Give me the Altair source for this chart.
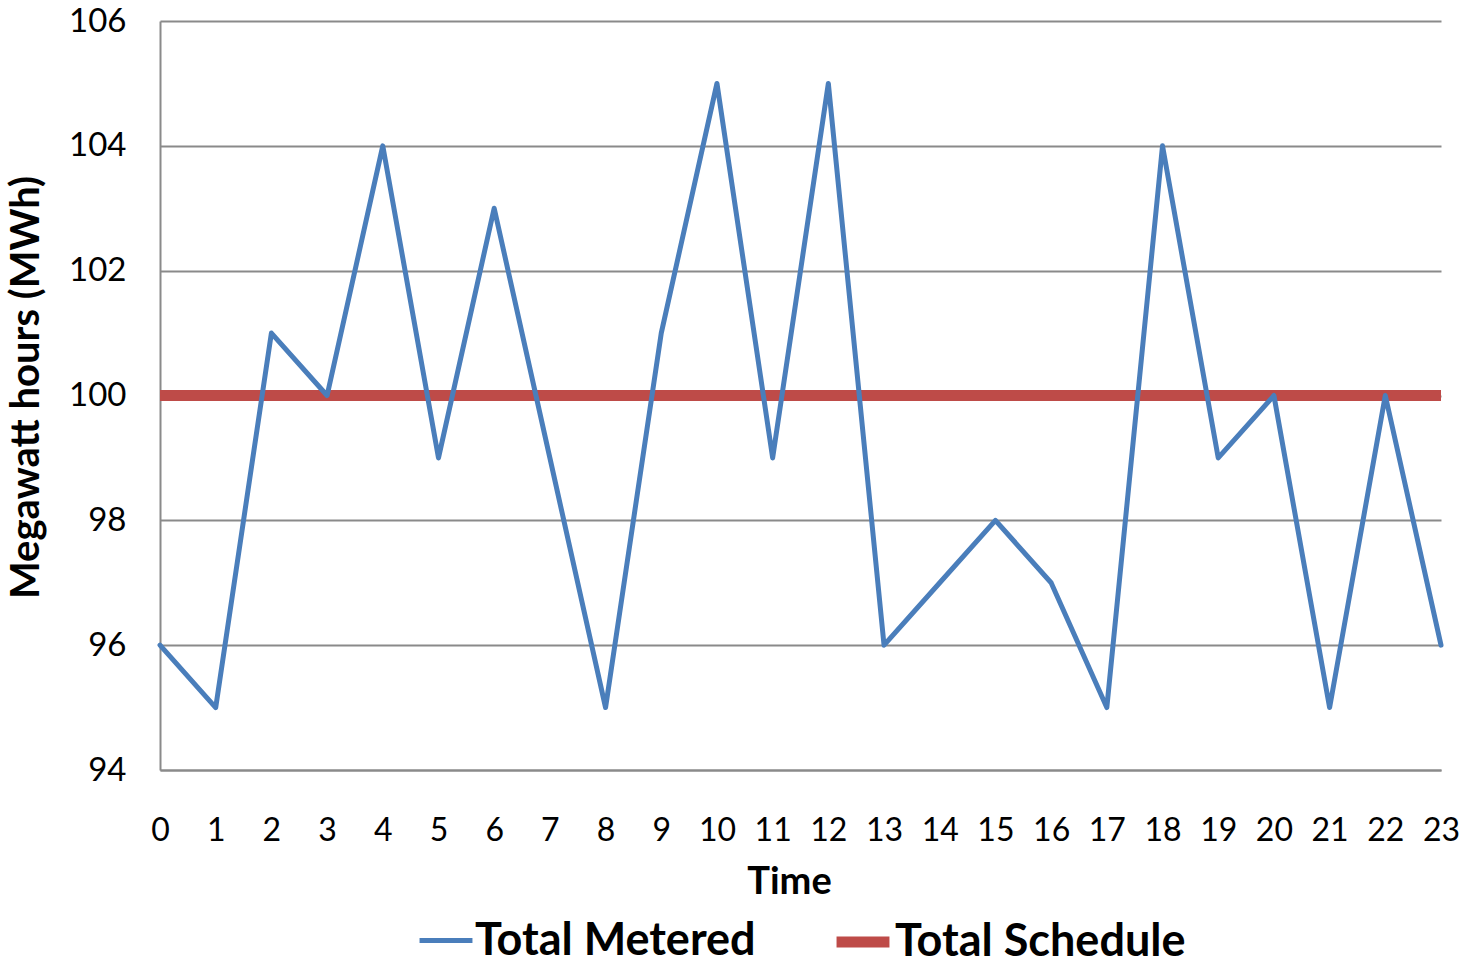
import altair as alt
import pandas as pd

# Hourly totals (MWh)
hours = list(range(24))
metered = [96, 95, 101, 100, 104, 99, 103, 99, 95, 101, 105, 99,
           105, 96, 97, 98, 97, 95, 104, 99, 100, 95, 100, 96]
schedule = [100] * 24

series_names = ["Total Metered", "Total Schedule"]
series_colors = ["#4A7EBB", "#BE4B48"]
series_widths = [5, 11]
y_ticks = [94, 96, 98, 100, 102, 104, 106]

df = pd.DataFrame({
    "Time": hours * 2,
    "MWh": metered + schedule,
    "series": [series_names[0]] * 24 + [series_names[1]] * 24,
})

grid_gray = "#8A8A8A"

x_enc = alt.X(
    "Time:Q",
    scale=alt.Scale(domain=[0, 23], nice=False, zero=False),
    axis=alt.Axis(
        values=hours, format="d", grid=False, ticks=False,
        domainColor=grid_gray, domainWidth=2,
        labelFont="Lato", labelFontSize=32, labelColor="#000000",
        labelPadding=45, labelFlush=False, labelOverlap=False,
        titleFont="Lato", titleFontSize=38, titleFontWeight="bold",
        titleColor="#000000", titlePadding=17, titleX=629,
    ),
)
y_enc = alt.Y(
    "MWh:Q",
    title="Megawatt hours (MWh)",
    scale=alt.Scale(domain=[94, 106], nice=False, zero=False),
    axis=alt.Axis(
        values=y_ticks, grid=True, gridColor=grid_gray, gridWidth=2,
        ticks=False, domainColor=grid_gray, domainWidth=2,
        labelFont="Lato", labelFontSize=33, labelColor="#000000",
        labelPadding=34,
        titleFont="Lato", titleFontSize=40, titleFontWeight="bold",
        titleColor="#000000", titlePadding=22, titleY=366,
    ),
)
color_enc = alt.Color(
    "series:N",
    scale=alt.Scale(domain=series_names, range=series_colors),
    legend=alt.Legend(
        title=None, orient="none", direction="horizontal",
        legendX=257, legendY=889,
        symbolType="stroke", symbolSize=2800, symbolStrokeWidth=6,
        labelFont="Lato", labelFontSize=45, labelFontWeight="bold",
        labelColor="#000000", labelOffset=0, labelLimit=500,
        columnPadding=58,
    ),
)
width_enc = alt.StrokeWidth(
    "series:N",
    scale=alt.Scale(domain=series_names, range=series_widths),
    legend=None,
)

base = alt.Chart(df).encode(x=x_enc, y=y_enc, color=color_enc,
                            strokeWidth=width_enc)

schedule_line = base.transform_filter(
    alt.datum.series == series_names[1]
).mark_line(strokeCap="butt")

metered_line = base.transform_filter(
    alt.datum.series == series_names[0]
).mark_line(strokeCap="round", strokeJoin="round")

chart = alt.layer(schedule_line, metered_line).properties(
    width=1281, height=749,
    autosize=alt.AutoSizeParams(type="none"),
    padding={"left": 160, "top": 21, "right": 19, "bottom": 195},
    background="#FFFFFF",
).configure_view(stroke=None)

chart.save("out.html", embed_options={"renderer": "svg", "actions": False})
